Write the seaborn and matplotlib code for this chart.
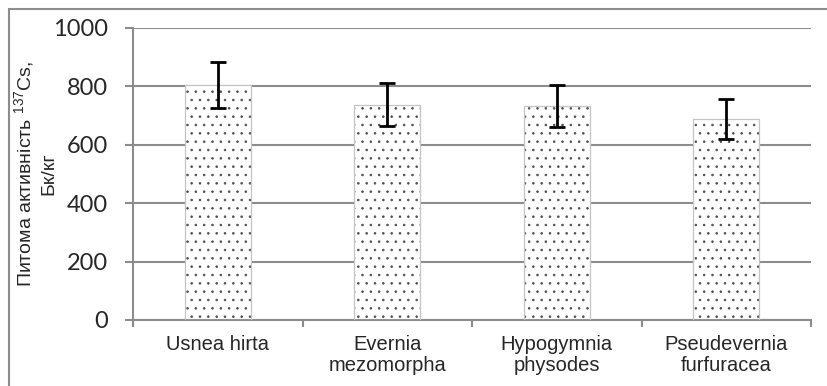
import numpy as np
import pandas as pd
import matplotlib
matplotlib.use("Agg")
import matplotlib.pyplot as plt
from matplotlib.patches import Rectangle
from matplotlib.ticker import FixedLocator
import seaborn as sns

# Specific activity of 137Cs in epiphytic lichens
species = ["Usnea hirta", "Evernia\nmezomorpha", "Hypogymnia\nphysodes", "Pseudevernia\nfurfuracea"]
activity = [805, 737, 733, 689]
error = [80, 74, 73, 69]
y_ticks = [0, 200, 400, 600, 800, 1000]

sns.set_theme(style="white")
plt.rcParams["font.family"] = ["Liberation Sans", "DejaVu Sans"]
plt.rcParams["mathtext.fontset"] = "custom"
plt.rcParams["mathtext.rm"] = "Liberation Sans"
plt.rcParams["mathtext.it"] = "Liberation Sans"
plt.rcParams["hatch.linewidth"] = 0.6

grey = "#8c8c8c"
dot_color = "#4d4d4d"

df = pd.DataFrame({"species": species, "activity": activity})

fig = plt.figure(figsize=(8.27, 3.86), dpi=100)
ax = fig.add_axes([133 / 827, 66 / 386, (811 - 133) / 827, (320 - 28) / 386])

sns.barplot(data=df, x="species", y="activity", ax=ax, width=0.39,
            color="white", saturation=1, edgecolor=dot_color, linewidth=0,
            hatch="..", errorbar=None, zorder=2)

# thin light outline around each dotted bar
for p in list(ax.patches):
    ax.add_patch(Rectangle(p.get_xy(), p.get_width(), p.get_height(),
                           fill=False, ec="#c4c4c4", lw=0.9, zorder=3))

ax.errorbar(np.arange(len(species)), activity, yerr=error, fmt="none",
            ecolor="black", elinewidth=2, capsize=5.5, capthick=2, zorder=4)

ax.set_ylim(0, 1000)
ax.set_xlim(-0.5, len(species) - 0.5)
ax.set_yticks(y_ticks)
ax.set_yticklabels([str(v) for v in y_ticks], family="Lato", fontsize=17)
ax.yaxis.grid(True, color=grey, lw=1.5)
ax.set_axisbelow(True)

ax.tick_params(axis="y", which="major", direction="out", length=6, width=1.5,
               color=grey, pad=12, left=True)
ax.tick_params(axis="x", which="major", length=0, pad=11, labelsize=14.5)
ax.xaxis.set_minor_locator(FixedLocator(np.arange(len(species) + 1) - 0.5))
ax.tick_params(axis="x", which="minor", direction="out", length=5, width=1.5,
               color=grey, bottom=True)
for lbl in ax.get_xticklabels():
    lbl.set_linespacing(1.1)

for side in ("top", "right"):
    ax.spines[side].set_visible(False)
for side in ("left", "bottom"):
    ax.spines[side].set_color(grey)
    ax.spines[side].set_linewidth(1.5)

ax.set_xlabel("")
ax.set_ylabel("Питома активність $^{137}$Cs,\nБк/кг", fontsize=14,
              linespacing=1.3)
ax.yaxis.set_label_coords(-0.112, 0.5)

# frame around the chart area
fig.add_artist(Rectangle((9 / 827, -0.1), 1.2, 1 - 9 / 386 + 0.1,
                         transform=fig.transFigure, fill=False, ec=grey,
                         lw=1.5, clip_on=False))

fig.savefig("out.png", dpi=100)
